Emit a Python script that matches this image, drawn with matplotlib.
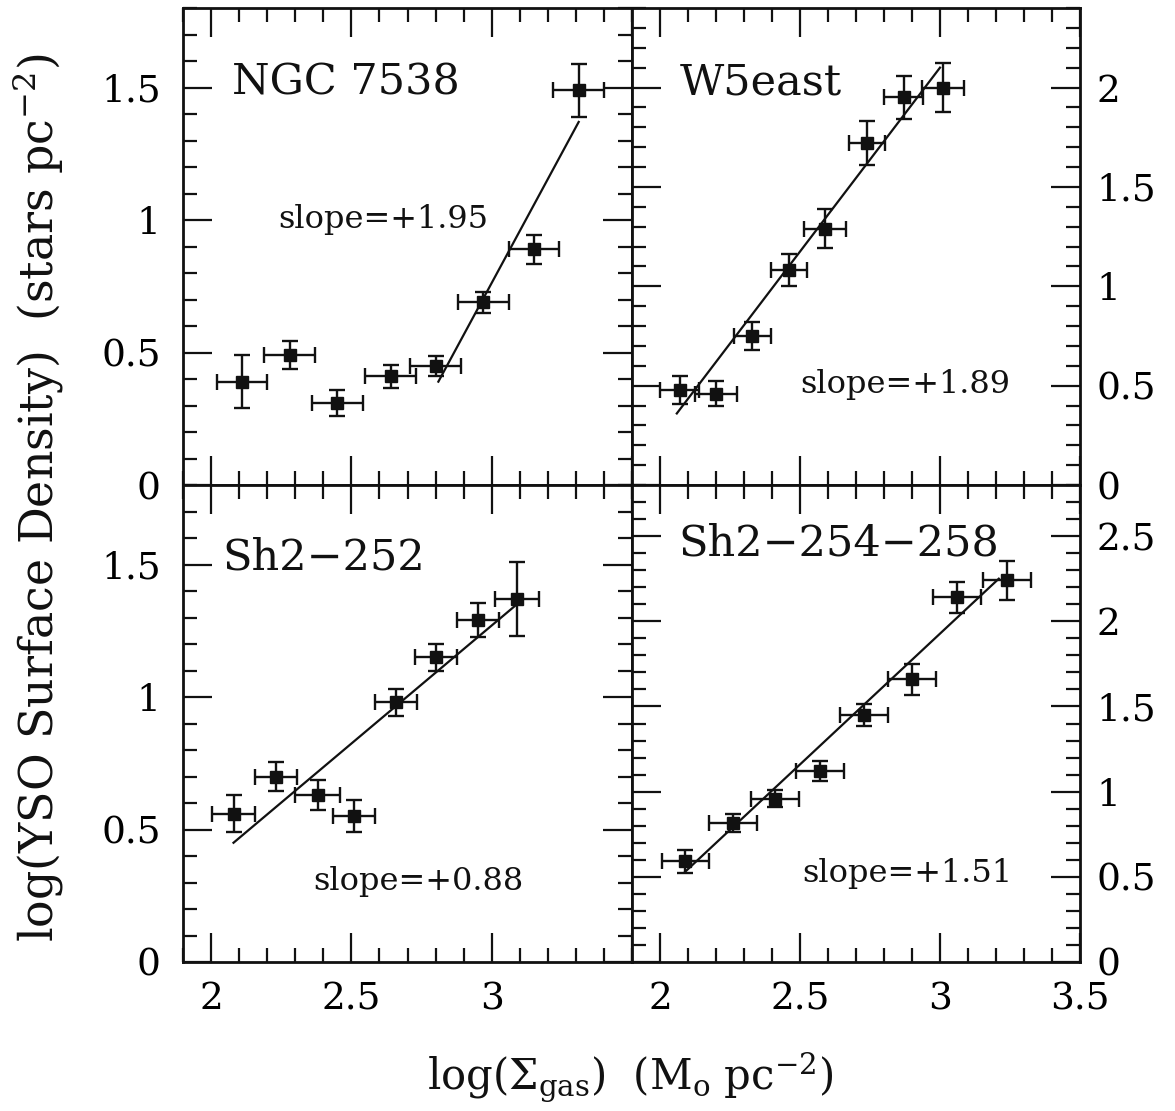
import matplotlib
matplotlib.use("Agg")
import matplotlib.pyplot as plt
from matplotlib.ticker import MultipleLocator, FixedLocator, NullFormatter

plt.rcParams['font.family'] = 'DejaVu Serif'
plt.rcParams['mathtext.fontset'] = 'dejavuserif'

# NGC 7538
ngc_x = [2.11, 2.28, 2.45, 2.64, 2.80, 2.97, 3.15, 3.31]
ngc_y = [0.39, 0.49, 0.31, 0.41, 0.45, 0.69, 0.89, 1.49]
ngc_xerr = [0.09, 0.09, 0.09, 0.09, 0.09, 0.09, 0.09, 0.09]
ngc_yerr = [0.10, 0.053, 0.05, 0.044, 0.038, 0.04, 0.055, 0.10]
ngc_fit_x = [2.81, 3.31]
ngc_fit_y = [0.39, 1.37]

# W5east (right-hand scale)
w5_x = [2.07, 2.20, 2.33, 2.46, 2.59, 2.74, 2.87, 3.01]
w5_y = [0.48, 0.46, 0.75, 1.08, 1.29, 1.72, 1.95, 2.00]
w5_xerr = [0.07, 0.075, 0.065, 0.065, 0.075, 0.065, 0.07, 0.075]
w5_yerr = [0.07, 0.065, 0.07, 0.08, 0.10, 0.11, 0.11, 0.125]
w5_fit_x = [2.06, 3.00]
w5_fit_y = [0.36, 2.10]

# Sh2-252
sh252_x = [2.08, 2.23, 2.38, 2.51, 2.66, 2.80, 2.95, 3.09]
sh252_y = [0.56, 0.70, 0.63, 0.55, 0.98, 1.15, 1.29, 1.37]
sh252_xerr = [0.075, 0.075, 0.08, 0.075, 0.075, 0.075, 0.075, 0.077]
sh252_yerr = [0.07, 0.055, 0.055, 0.06, 0.05, 0.05, 0.065, 0.14]
sh252_fit_x = [2.08, 3.09]
sh252_fit_y = [0.45, 1.35]

# Sh2-254-258 (right-hand scale)
sh254_x = [2.09, 2.26, 2.41, 2.57, 2.73, 2.90, 3.06, 3.24]
sh254_y = [0.59, 0.816, 0.957, 1.12, 1.45, 1.66, 2.14, 2.24]
sh254_xerr = [0.084, 0.085, 0.086, 0.086, 0.086, 0.085, 0.085, 0.086]
sh254_yerr = [0.068, 0.055, 0.05, 0.06, 0.065, 0.09, 0.093, 0.113]
sh254_fit_x = [2.09, 3.21]
sh254_fit_y = [0.53, 2.25]

names = ["NGC 7538", "W5east", "Sh2\u2212252", "Sh2\u2212254\u2212258"]
slopes = ["slope=+1.95", "slope=+1.89", "slope=+0.88", "slope=+1.51"]

fig = plt.figure(figsize=(11.75, 11.11), dpi=100)

L, M, R = 183/1175, 632/1175, 1080/1175
T, C, B = 1 - 8/1111, 1 - 485/1111, 1 - 962/1111

ax_tl = fig.add_axes([L, C, M - L, T - C])
ax_tr = fig.add_axes([M, C, R - M, T - C])
ax_bl = fig.add_axes([L, B, M - L, C - B])
ax_br = fig.add_axes([M, B, R - M, C - B])

panels = [
    (ax_tl, ngc_x, ngc_y, ngc_xerr, ngc_yerr, ngc_fit_x, ngc_fit_y, 1.8),
    (ax_tr, w5_x, w5_y, w5_xerr, w5_yerr, w5_fit_x, w5_fit_y, 2.4),
    (ax_bl, sh252_x, sh252_y, sh252_xerr, sh252_yerr, sh252_fit_x, sh252_fit_y, 1.8),
    (ax_br, sh254_x, sh254_y, sh254_xerr, sh254_yerr, sh254_fit_x, sh254_fit_y, 2.8),
]

name_pos = [(0.109, 0.818), (0.107, 0.818), (0.087, 0.822), (0.103, 0.853)]
slope_pos = [(0.212, 0.539), (0.375, 0.193), (0.290, 0.151), (0.379, 0.168)]

for i, (ax, x, y, xe, ye, fx, fy, ytop) in enumerate(panels):
    ax.errorbar(x, y, xerr=xe, yerr=ye, fmt='s', color='#111111', ms=9,
                elinewidth=1.7, capsize=6, capthick=1.7)
    ax.plot(fx, fy, color='#111111', lw=1.6)
    ax.set_xlim(1.9, 3.5)
    ax.set_ylim(0, ytop)
    ax.xaxis.set_major_locator(MultipleLocator(0.5))
    ax.xaxis.set_minor_locator(MultipleLocator(0.1))
    ax.yaxis.set_major_locator(MultipleLocator(0.5))
    ax.yaxis.set_minor_locator(MultipleLocator(0.1))
    ax.tick_params(which='both', direction='in', top=True, right=True,
                   width=1.6, color='#111111')
    ax.tick_params(which='major', length=21)
    ax.tick_params(which='minor', length=10)
    ax.tick_params(axis='y', labelsize=27, pad=16)
    ax.tick_params(axis='x', labelsize=27, pad=14)
    for s in ax.spines.values():
        s.set_linewidth(2)
        s.set_color('#111111')
    ax.text(name_pos[i][0], name_pos[i][1], names[i], transform=ax.transAxes,
            fontsize=31, va='baseline', ha='left', color='#111111')
    ax.text(slope_pos[i][0], slope_pos[i][1], slopes[i], transform=ax.transAxes,
            fontsize=23, va='baseline', ha='left', color='#111111')

# x tick labels only on bottom row
for ax in (ax_tl, ax_tr):
    ax.xaxis.set_major_formatter(NullFormatter())
ax_bl.xaxis.set_major_locator(FixedLocator([2, 2.5, 3, 3.5]))
ax_bl.set_xticklabels(['2', '2.5', '3', ''])
ax_br.set_xticks([2, 2.5, 3, 3.5])
ax_br.set_xticklabels(['2', '2.5', '3', '3.5'])

# y labels: left column on the left, right column on the right
for ax in (ax_tr, ax_br):
    ax.tick_params(axis='y', labelleft=False, labelright=True, pad=12)

def fmt(v):
    return '0' if v == 0 else ('%g' % v)

ax_tl.set_yticks([0, 0.5, 1, 1.5])
ax_tl.set_yticklabels([fmt(v) for v in [0, 0.5, 1, 1.5]])
ax_bl.set_yticks([0, 0.5, 1, 1.5])
ax_bl.set_yticklabels([fmt(v) for v in [0, 0.5, 1, 1.5]])
ax_tr.set_yticks([0, 0.5, 1, 1.5, 2])
ax_tr.set_yticklabels([fmt(v) for v in [0, 0.5, 1, 1.5, 2]])
ax_br.set_yticks([0, 0.5, 1, 1.5, 2, 2.5])
ax_br.set_yticklabels([fmt(v) for v in [0, 0.5, 1, 1.5, 2, 2.5]])

fig.text(0.033, 0.552, r'log(YSO Surface Density)  (stars pc$^{-2}$)',
         rotation=90, ha='center', va='center', fontsize=33,
         color='#111111')
fig.text(0.536, 0.030, r'log($\Sigma_{\rm gas}$)  (M$_{\rm o}$ pc$^{-2}$)',
         ha='center', va='center', fontsize=30, color='#111111')

plt.savefig('out.png', dpi=100)
